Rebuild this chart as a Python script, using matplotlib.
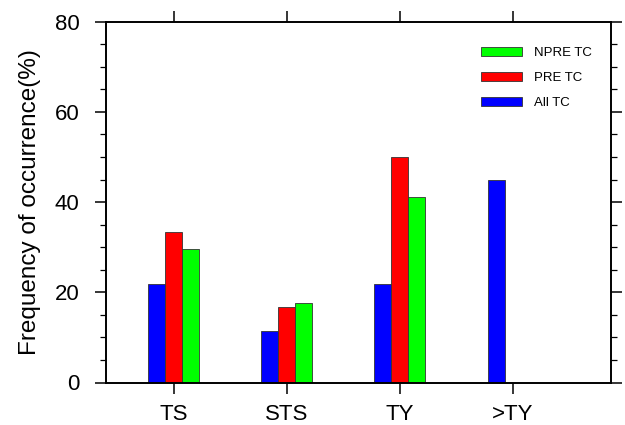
import matplotlib
matplotlib.use("Agg")
import matplotlib.pyplot as plt
from matplotlib.patches import Patch
from matplotlib.ticker import MultipleLocator

categories = ["TS", "STS", "TY", ">TY"]
all_tc = [21.8, 11.5, 21.8, 44.9]
pre_tc = [33.4, 16.7, 50.1, None]
npre_tc = [29.5, 17.6, 41.1, None]

plt.rcParams['font.family'] = ['Liberation Sans', 'DejaVu Sans']

fig = plt.figure(figsize=(6.25, 4.25), dpi=100)
ax = fig.add_axes([106/625, 1 - 382.5/425, (611-106)/625, (382.5-21.7)/425])

x = [1, 2, 3, 4]
w = 0.15
ec = '#333333'
for i in range(4):
    ax.bar(x[i] - w, all_tc[i], w, color='#0000ff', edgecolor=ec, linewidth=0.6)
    if pre_tc[i] is not None:
        ax.bar(x[i], pre_tc[i], w, color='#ff0000', edgecolor=ec, linewidth=0.6)
    if npre_tc[i] is not None:
        ax.bar(x[i] + w, npre_tc[i], w, color='#00ff00', edgecolor=ec, linewidth=0.6)

ax.set_xlim(0.4, 4.867)
ax.set_ylim(0, 80)
ax.set_xticks(x)
ax.set_xticklabels(categories, fontsize=16)
ax.yaxis.set_major_locator(MultipleLocator(20))
ax.yaxis.set_minor_locator(MultipleLocator(5))
ax.tick_params(axis='y', which='major', direction='out', length=8, width=1.1, labelsize=16,
               left=True, right=True, pad=11)
ax.tick_params(axis='y', which='minor', direction='out', length=4.3, width=0.9, left=True, right=True)
ax.tick_params(axis='x', which='major', direction='out', length=8, width=1.1, top=True, bottom=True, pad=7.5)
for s in ax.spines.values():
    s.set_linewidth(1.4)
ax.set_ylabel("Frequency of occurrence(%)", fontsize=17.5, labelpad=10)

handles = [Patch(facecolor='#00ff00', edgecolor=ec, linewidth=0.6, label='NPRE TC'),
           Patch(facecolor='#ff0000', edgecolor=ec, linewidth=0.6, label='PRE TC'),
           Patch(facecolor='#0000ff', edgecolor=ec, linewidth=0.6, label='All TC')]
ax.legend(handles=handles, loc='upper left', bbox_to_anchor=(0.72, 0.962), frameon=False,
          fontsize=9.5, handlelength=3.1, handleheight=0.62, labelspacing=0.98, handletextpad=0.9)

fig.savefig("out.png", dpi=100)
